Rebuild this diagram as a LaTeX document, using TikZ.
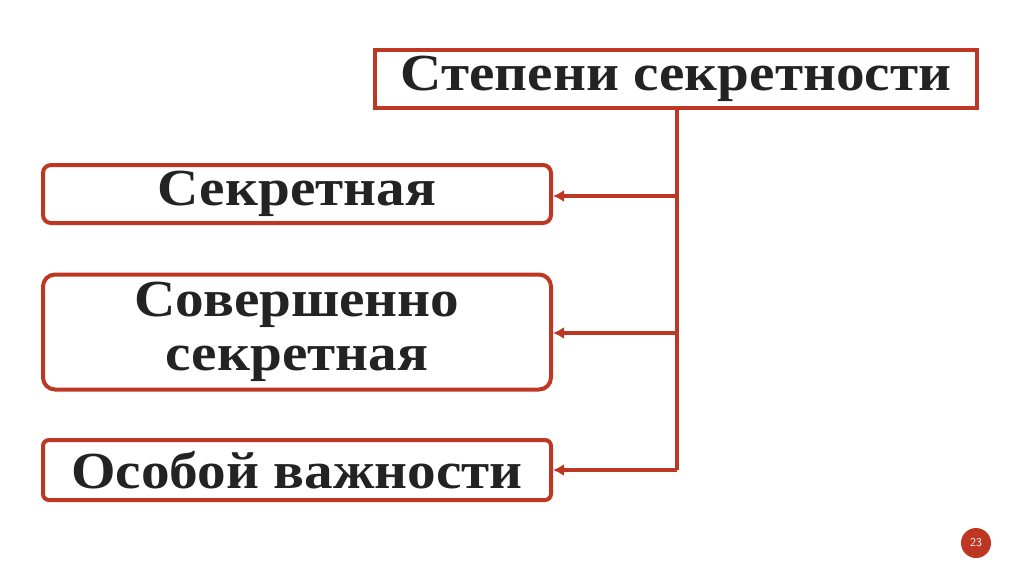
\documentclass[tikz,border=0pt]{standalone}
\usepackage{fontspec}
\setmainfont[FakeStretch=1.1]{Liberation Serif}
\usetikzlibrary{arrows.meta}
\definecolor{rb}{RGB}{190,55,35}
\definecolor{tx}{RGB}{35,35,35}
\begin{document}
\begin{tikzpicture}[x=1pt,y=-1pt,
  box/.style={draw=rb,line width=4pt,fill=white,text=tx,font=\bfseries\fontsize{52}{50}\selectfont,align=center,inner sep=0pt},
  conn/.style={draw=rb,line width=3.5pt},
  arr/.style={conn,-{Latex[length=11pt,width=12pt]}}]
\useasboundingbox (0,0) rectangle (1024,574);
\node[box,minimum width=602pt,minimum height=58pt] (top) at (676,79) {Степени секретности};
\node[box,rounded corners=8pt,minimum width=508pt,minimum height=58pt] (b1) at (297,194) {Секретная};
\node[box,rounded corners=12pt,minimum width=508pt,minimum height=115pt] (b2) at (297,332) {Совершенно\\[4pt]секретная};
\node[box,rounded corners=6pt,minimum width=508pt,minimum height=60pt] (b3) at (297,470) {Особой важности};
\coordinate (j1) at (677,196);
\coordinate (j2) at (677,333);
\coordinate (j3) at (677,470);
\draw[conn] (top.south -| j1) -- (j3);
\draw[arr] (j1) -- (b1.east |- j1);
\draw[arr] (j2) -- (b2.east |- j2);
\draw[arr] (j3) -- (b3.east |- j3);
\node[circle,fill=rb,minimum size=30pt,inner sep=0pt,text=white,font=\sffamily\fontsize{12}{12}\selectfont] (pg) at (976,543) {23};
\end{tikzpicture}
\end{document}
